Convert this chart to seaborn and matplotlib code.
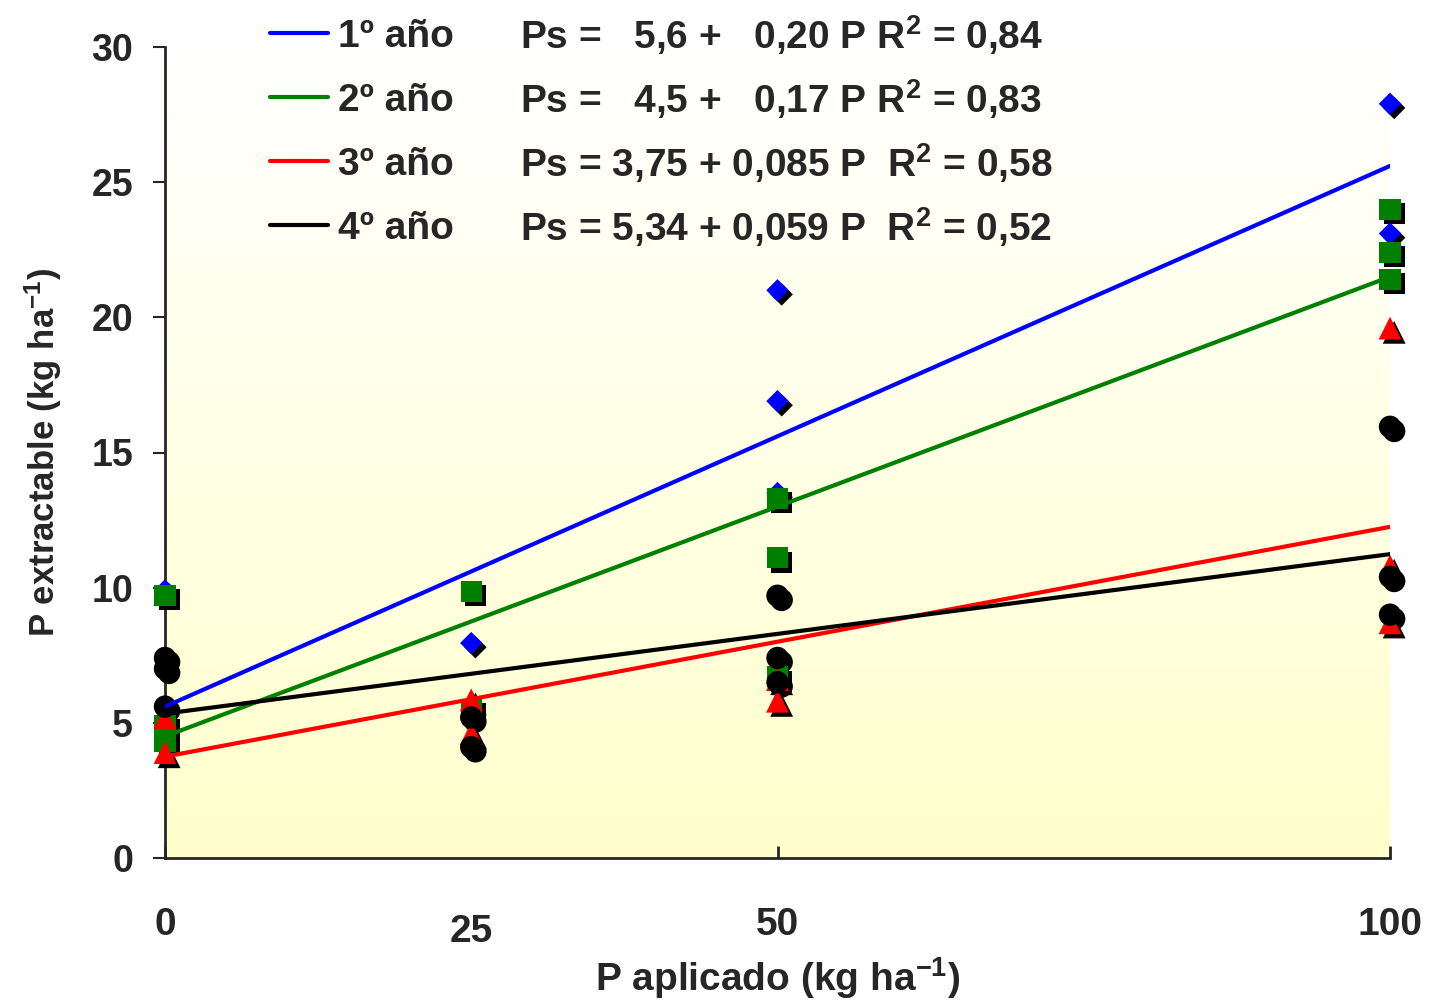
import numpy as np
import pandas as pd
import seaborn as sns
import matplotlib.pyplot as plt
import matplotlib.patheffects as pe
from matplotlib import font_manager as fm
from matplotlib.colors import LinearSegmentedColormap

# ---------------------------
# Datos
# ---------------------------
anios = ["1º año", "2º año", "3º año", "4º año"]
colores = ["#0000FF", "#008000", "#FF0000", "#000000"]
marcadores = ["D", "s", "^", "o"]
tamanos = [130, 230, 270, 260]

# P aplicado / P extractable por año
p_1 = [0, 25, 50, 50, 50, 100, 100]
ps_1 = [9.9, 7.95, 21.0, 16.9, 13.5, 27.9, 23.1]

p_2 = [0, 0, 0, 25, 25, 50, 50, 50, 100, 100, 100]
ps_2 = [9.7, 4.9, 4.3, 9.85, 5.5, 13.3, 11.1, 6.7, 24.0, 22.4, 21.4]

p_3 = [0, 0, 25, 25, 50, 50, 100, 100, 100]
ps_3 = [5.2, 3.9, 5.85, 4.6, 5.8, 6.6, 19.6, 10.8, 8.7]

p_4 = [0, 0, 0, 25, 25, 50, 50, 50, 100, 100, 100]
ps_4 = [7.4, 7.0, 5.6, 5.2, 4.1, 9.7, 7.4, 6.5, 15.95, 10.4, 9.0]

# Ajustes lineales publicados
intercepto = [5.6, 4.5, 3.75, 5.34]
pendiente = [0.20, 0.17, 0.085, 0.059]
ecuaciones = [
    "Ps =   5,6 +   0,20 P R$^2$ = 0,84",
    "Ps =   4,5 +   0,17 P R$^2$ = 0,83",
    "Ps = 3,75 + 0,085 P  R$^2$ = 0,58",
    "Ps = 5,34 + 0,059 P  R$^2$ = 0,52",
]

x_ticks = [0, 25, 50, 100]
y_ticks = [0, 5, 10, 15, 20, 25, 30]

df = pd.concat([
    pd.DataFrame({"P": p, "Ps": ps, "anio": a})
    for p, ps, a in zip([p_1, p_2, p_3, p_4], [ps_1, ps_2, ps_3, ps_4], anios)
], ignore_index=True)

# ---------------------------
# Estilo
# ---------------------------
sns.set_style("ticks")
nombres = {f.name for f in fm.fontManager.ttflist}
NARROW = "Liberation Sans Narrow" if "Liberation Sans Narrow" in nombres else "Liberation Sans"
plt.rcParams["font.family"] = ["Liberation Sans", "DejaVu Sans"]
plt.rcParams["font.weight"] = "bold"
plt.rcParams["mathtext.default"] = "regular"

fig = plt.figure(figsize=(14.32, 10.01), dpi=100)
ax = fig.add_axes([165 / 1432, 1 - 858 / 1001, 1225 / 1432, 811 / 1001])

# fondo degradado blanco -> amarillo
cmap = LinearSegmentedColormap.from_list("fondo", ["#FFFFCC", "#FFFFFF"])
ax.imshow(np.linspace(0, 1, 256).reshape(-1, 1), cmap=cmap, origin="lower",
          extent=[0, 100, 0, 30], aspect="auto", zorder=0)

# puntos con sombra
sns.scatterplot(data=df, x="P", y="Ps", hue="anio", style="anio", size="anio",
                palette=dict(zip(anios, colores)),
                markers=dict(zip(anios, marcadores)),
                sizes=dict(zip(anios, tamanos)),
                linewidth=0, legend=False, clip_on=False, zorder=3, ax=ax)
ax.collections[-1].set_path_effects([
    pe.SimplePatchShadow(offset=(3, -3), shadow_rgbFace="black", alpha=1.0),
    pe.Normal(),
])

# rectas de regresión
xs = np.array([0, 100])
for a, b, c, nom in zip(intercepto, pendiente, colores, anios):
    sns.lineplot(x=xs, y=a + b * xs, color=c, linewidth=3, label=nom,
                 zorder=4, ax=ax)

ax.set_xlim(0, 100)
ax.set_ylim(0, 30)

# ejes
sns.despine(ax=ax)
for s in ["left", "bottom"]:
    ax.spines[s].set_linewidth(2)
    ax.spines[s].set_zorder(2.5)

ax.set_yticks(y_ticks)
ax.set_yticklabels([str(v) for v in y_ticks], fontsize=27, fontweight="bold")
ax.tick_params(axis="y", direction="out", length=9, width=1.5, pad=14)

ax.set_xticks(x_ticks)
ax.set_xticklabels([str(v) for v in x_ticks], fontsize=28, fontweight="bold",
                   fontfamily=NARROW)
ax.tick_params(axis="x", direction="in", length=9, width=2, pad=35)
t25 = ax.xaxis.get_major_ticks()[1]
t25.tick1line.set_visible(False)
t25.set_pad(40)

ax.set_xlabel("P aplicado (kg ha$^{-1}$)", fontsize=28, fontweight="bold",
              fontfamily=NARROW, labelpad=4)
ax.set_ylabel("P extractable (kg ha$^{-1}$)", fontsize=25, fontweight="bold",
              labelpad=20)

# leyenda + ecuaciones
leg = ax.legend(loc="upper left", bbox_to_anchor=(270 / 1432, 1 - 19 / 1001),
                bbox_transform=fig.transFigure, frameon=False,
                prop={"family": NARROW, "weight": "bold", "size": 28},
                handlelength=1.5, handletextpad=0.25, labelspacing=0.72,
                borderpad=0, borderaxespad=0)
for ln in leg.get_lines():
    ln.set_linewidth(3)

for i, eq in enumerate(ecuaciones):
    fig.text(520 / 1432, 1 - (35 + 64 * i) / 1001, eq, fontsize=28,
             fontweight="bold", fontfamily=NARROW, va="center", ha="left")

plt.savefig("out.png", dpi=100)
plt.close()
